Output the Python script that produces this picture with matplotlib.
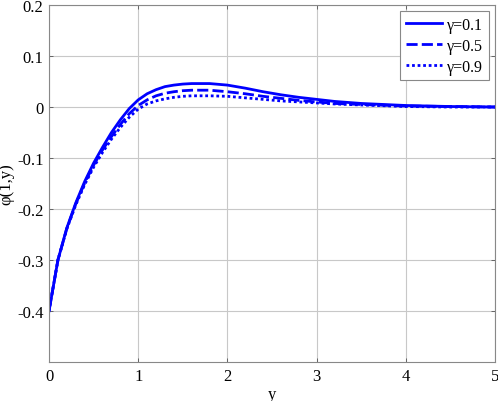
import matplotlib
matplotlib.use("Agg")
import matplotlib.pyplot as plt

plt.rcParams["font.family"] = ["Liberation Serif", "DejaVu Serif"]

# values
y_vals = [0, 0.1, 0.2, 0.3, 0.4, 0.5, 0.6, 0.7, 0.8, 0.9, 1.0, 1.1, 1.2, 1.3,
          1.4, 1.5, 1.6, 1.8, 2.0, 2.2, 2.4, 2.6, 2.8, 3.0, 3.2, 3.5, 4.0, 4.5, 5.0]
phi_g01 = [-0.4, -0.30, -0.237, -0.188, -0.146, -0.110, -0.079, -0.050, -0.025,
           -0.003, 0.014, 0.026, 0.034, 0.040, 0.043, 0.045, 0.046, 0.046, 0.043,
           0.037, 0.030, 0.024, 0.019, 0.015, 0.011, 0.007, 0.003, 0.001, 0.0]
phi_g05 = [-0.4, -0.30, -0.238, -0.190, -0.149, -0.114, -0.084, -0.058, -0.034,
           -0.013, 0.003, 0.014, 0.022, 0.027, 0.030, 0.032, 0.033, 0.033, 0.030,
           0.026, 0.021, 0.017, 0.013, 0.010, 0.007, 0.005, 0.002, 0.001, 0.0]
phi_g09 = [-0.4, -0.30, -0.239, -0.192, -0.152, -0.118, -0.089, -0.063, -0.040,
           -0.020, -0.004, 0.006, 0.012, 0.016, 0.019, 0.021, 0.022, 0.022, 0.021,
           0.018, 0.015, 0.012, 0.010, 0.008, 0.006, 0.004, 0.001, 0.0, 0.0]
labels = ["γ=0.1", "γ=0.5", "γ=0.9"]

fig = plt.figure(figsize=(4.98, 4.02), dpi=100)
ax = fig.add_axes([0.0984, 0.097, 0.8956, 0.888])

ax.plot(y_vals, phi_g01, color="blue", lw=2.0, ls="-", label=labels[0])
ax.plot(y_vals, phi_g05, color="blue", lw=2.0, ls=(0, (4, 1.5)), label=labels[1])
ax.plot(y_vals, phi_g09, color="blue", lw=2.0, ls=(0, (1, 1)), label=labels[2])

ax.set_xlim(0, 5)
ax.set_ylim(-0.5, 0.2)
ax.set_xticks([0, 1, 2, 3, 4, 5])
ax.set_yticks([-0.4, -0.3, -0.2, -0.1, 0, 0.1, 0.2])
ax.set_yticklabels(["-0.4", "-0.3", "-0.2", "-0.1", "0", "0.1", "0.2"])
ax.grid(True, color="#c8c8c8", lw=0.8)
ax.set_axisbelow(True)
for s in ax.spines.values():
    s.set_color("#888888")
    s.set_linewidth(0.8)
ax.tick_params(direction="in", length=3, width=0.6, color="#555555",
               top=True, right=True, labelsize=12, pad=4)

ax.set_xlabel("y", fontsize=12, labelpad=2)
ax.set_ylabel("φ(1,y)", fontsize=12)
ax.yaxis.set_label_coords(-0.077, 0.5)

leg = ax.legend(loc="upper right", fontsize=11.5, fancybox=False, framealpha=1,
                edgecolor="#888888", handlelength=2.3, handletextpad=0.3,
                borderpad=0.35, labelspacing=0.3, borderaxespad=0.4)
leg.get_frame().set_linewidth(0.8)

fig.savefig("out.png", dpi=100)
